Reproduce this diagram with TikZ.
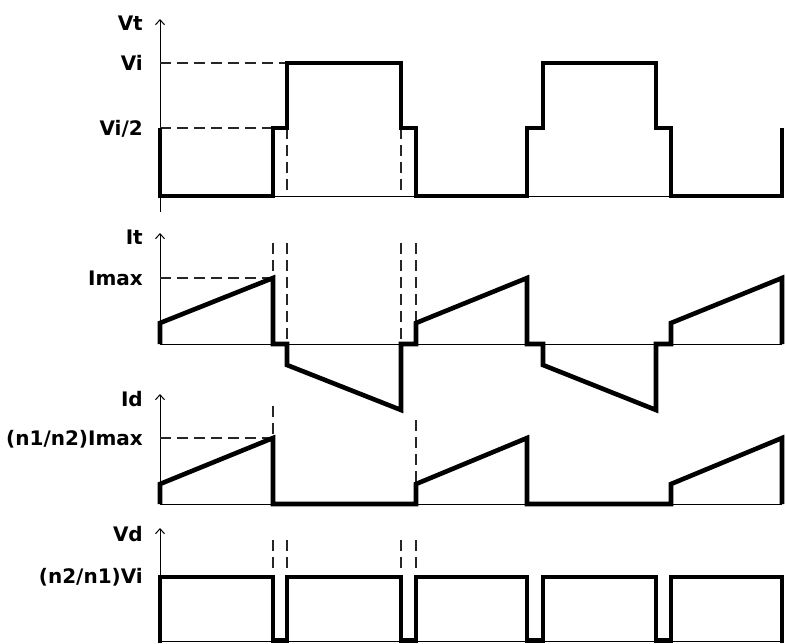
\documentclass[tikz,border=0pt]{standalone}
\usepackage{fontspec}
\setmainfont{DejaVu Sans}
\usetikzlibrary{arrows.meta}
\begin{document}
\begin{tikzpicture}[x=1pt,y=-1pt,
  wave/.style={line width=4.6pt,line join=miter,line cap=butt},
  axisline/.style={line width=1pt},
  axisarrow/.style={line width=1pt,-{Straight Barb[length=5pt,width=9pt,line width=1pt]}},
  guide/.style={line width=1.3pt,black!85,dash pattern=on 11pt off 6pt},
  lbl/.style={anchor=east,inner sep=0pt,text height=14.5pt,text depth=0pt,font=\fontsize{20}{20}\selectfont\bfseries}]
\useasboundingbox (0,0) rectangle (786,643);
% ---------- Vt ----------
\node[lbl] (lvt) at (143,23) {Vt};
\node[lbl] (lvi) at (143,63) {Vi};
\node[lbl] (lvih) at (143,128) {Vi/2};
\coordinate (vtb) at (160,212);
\coordinate (vtt) at (160,19);
\draw[axisarrow] (vtb) -- (vtt);
\coordinate (vt0) at (160,196);
\coordinate (vt1) at (782,196);
\draw[axisline] (vt0) -- (vt1);
\draw[guide] (160,63) -- (287,63);
\draw[guide] (160,128) -- (273,128);
\draw[guide] (287,128) -- (287,196);
\draw[guide] (401,128) -- (401,196);
\draw[wave] (160,128) -- (160,196) -- (273,196) -- (273,128) -- (287,128) -- (287,63)
  -- (401,63) -- (401,128) -- (416,128) -- (416,196) -- (527,196) -- (527,128)
  -- (543,128) -- (543,63) -- (656,63) -- (656,128) -- (671,128) -- (671,196)
  -- (782,196) -- (782,128);
% ---------- It ----------
\node[lbl] (lit) at (143,237) {It};
\node[lbl] (limax) at (143,278) {Imax};
\coordinate (itb) at (160,344);
\coordinate (itt) at (160,233);
\draw[axisarrow] (itb) -- (itt);
\coordinate (it1) at (782,344);
\draw[axisline] (itb) -- (it1);
\draw[guide] (160,278) -- (273,278);
\draw[guide] (273,243) -- (273,278);
\draw[guide] (287,243) -- (287,344);
\draw[guide] (401,243) -- (401,344);
\draw[guide] (416,243) -- (416,323);
\draw[wave] (160,344) -- (160,323) -- (273,278) -- (273,344) -- (287,344) -- (287,365)
  -- (401,410) -- (401,344) -- (416,344) -- (416,323) -- (527,278) -- (527,344)
  -- (543,344) -- (543,365) -- (656,410) -- (656,344) -- (671,344) -- (671,323)
  -- (782,278) -- (782,344);
% ---------- Id ----------
\node[lbl] (lid) at (143,399) {Id};
\node[lbl] (lidm) at (143,438) {(n1/n2)Imax};
\coordinate (idb) at (160,504);
\coordinate (idt) at (160,394);
\draw[axisarrow] (idb) -- (idt);
\coordinate (id1) at (782,504);
\draw[axisline] (idb) -- (id1);
\draw[guide] (160,438) -- (273,438);
\draw[guide] (273,406) -- (273,438);
\draw[guide] (416,420) -- (416,484);
\draw[wave] (160,504) -- (160,484) -- (273,438) -- (273,504) -- (416,504) -- (416,484)
  -- (527,438) -- (527,504) -- (671,504) -- (671,484) -- (782,438) -- (782,504);
% ---------- Vd ----------
\node[lbl] (lvd) at (143,534) {Vd};
\node[lbl] (lvdm) at (143,576) {(n2/n1)Vi};
\coordinate (vdb) at (160,577);
\coordinate (vdt) at (160,528);
\draw[axisarrow] (vdb) -- (vdt);
\coordinate (vd0) at (160,641.5);
\coordinate (vd1) at (782,641.5);
\draw[axisline] (vd0) -- (vd1);
\draw[guide] (273,540) -- (273,568);
\draw[guide] (287,540) -- (287,568);
\draw[guide] (401,540) -- (401,568);
\draw[guide] (416,540) -- (416,568);
\draw[wave] (160,643) -- (160,577) -- (273,577) -- (273,640.5) -- (287,640.5) -- (287,577)
  -- (401,577) -- (401,640.5) -- (416,640.5) -- (416,577) -- (527,577) -- (527,640.5)
  -- (543,640.5) -- (543,577) -- (656,577) -- (656,640.5) -- (671,640.5) -- (671,577)
  -- (782,577) -- (782,643);
\end{tikzpicture}
\end{document}
